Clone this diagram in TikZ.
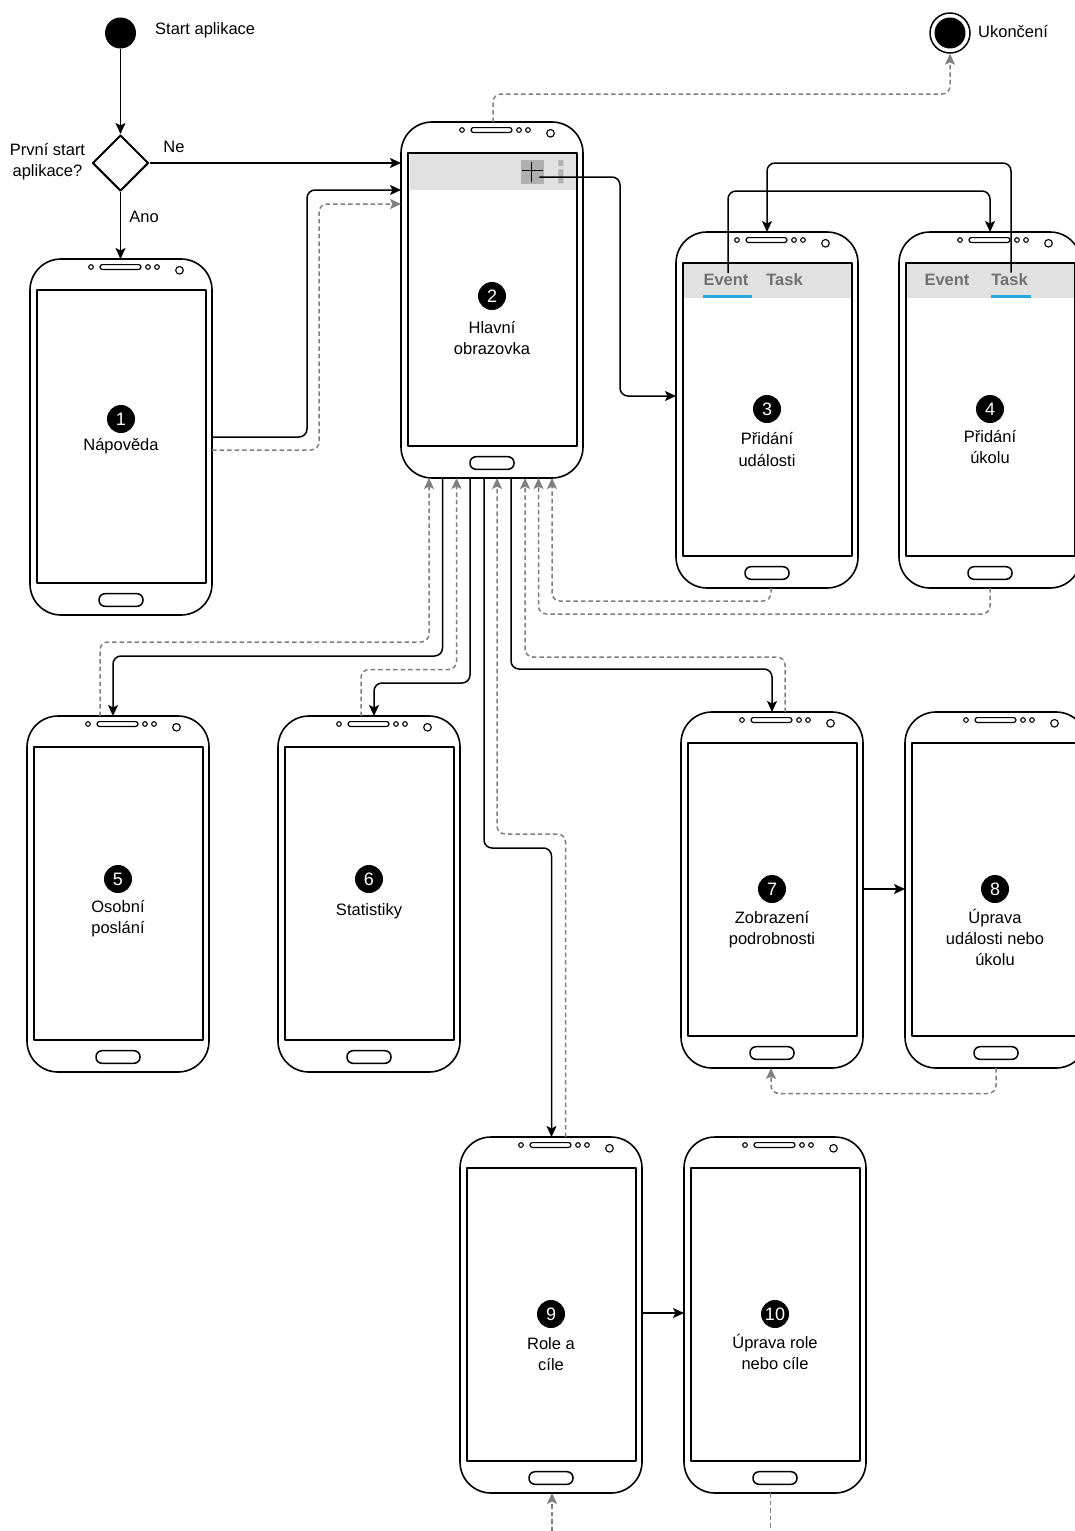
\documentclass[tikz,border=0pt]{standalone}
\usepackage{fontspec}
\setmainfont{Liberation Sans}
\usetikzlibrary{shapes.geometric,arrows.meta,calc}
\definecolor{dgray}{HTML}{7F7F7F}
\definecolor{hdr}{HTML}{E1E1E1}
\definecolor{tabtxt}{HTML}{707070}
\definecolor{tabblue}{HTML}{2AA8E0}
\definecolor{icongray}{HTML}{B0B0B0}
\newcommand{\lblfont}{\fontsize{16.5pt}{21pt}\selectfont}
\newcommand{\mobphone}[3]{%
  \node[phonebody] (#1) at (#2,#3) {};
  \begin{scope}[shift={(#2,#3)}]
    \draw[line width=1.5pt] (7,31) rectangle (176,324);
    \draw[line width=1.2pt, rounded corners=2.4pt] (70,5.6) rectangle (111,10.4);
    \draw[line width=1.1pt] (61,8) circle (2.3) (118,8) circle (2.3) (127,8) circle (2.3) (149.5,11.3) circle (3.8);
    \draw[line width=1.5pt, rounded corners=6pt] (69,334.7) rectangle (113,347.3);
  \end{scope}}
\begin{document}
\begin{tikzpicture}[x=1pt,y=-1pt,line join=round,
  phonebody/.style={draw, line width=1.6pt, rounded corners=31pt, minimum width=182pt, minimum height=356pt, anchor=north west, outer sep=0pt, inner sep=0pt, fill=white},
  flow/.style={line width=1.5pt, rounded corners=8pt, -{Stealth[length=11pt,width=10pt,inset=2.5pt]}},
  back/.style={line width=1.5pt, dgray, dash pattern=on 4.5pt off 3pt, rounded corners=8pt, -{Stealth[length=11pt,width=10pt,inset=2.5pt]}},
  badge/.style={circle, fill=black, text=white, minimum size=28pt, inner sep=0pt, font=\fontsize{18pt}{21pt}\selectfont},
  lbl/.style={align=center, font=\lblfont, inner sep=1pt},
  tab/.style={font=\lblfont\bfseries, text=tabtxt, inner sep=1pt}]
\useasboundingbox (0,0) rectangle (1075,1531);
\clip (0,0) rectangle (1075,1531);
\fill[white] (0,0) rectangle (1075,1531);

% phones
\mobphone{p1}{30}{259}
\mobphone{p2}{401}{122}
\mobphone{p3}{676}{232}
\mobphone{p4}{899}{232}
\mobphone{p5}{27}{716}
\mobphone{p6}{278}{716}
\mobphone{p7}{681}{712}
\mobphone{p8}{905}{712}
\mobphone{p9}{460}{1137}
\mobphone{p10}{684}{1137}

% header of main screen
\fill[hdr] (409.7,153.7) rectangle (576.3,190);
\node[fill=icongray, minimum width=23.5pt, minimum height=24pt, inner sep=0pt] (plus) at (532.3,172) {};
\draw[line width=1.5pt] (522,170.7) -- (542.7,170.7) (531.7,161.7) -- (531.7,181.7);
\fill[icongray] (558.3,160) rectangle (563.3,166) (558.3,169.3) rectangle (563.3,183.3);

% headers of add screens
\fill[hdr] (683.7,263.7) rectangle (851.3,298);
\fill[hdr] (906.7,263.7) rectangle (1074.3,298);
\fill[tabblue] (702.7,295) rectangle (752,298);
\fill[tabblue] (991,295) rectangle (1030.7,298);
\node[tab] (t3e) at (726,280) {Event};
\node[tab] (t3t) at (784.5,280) {Task};
\node[tab] (t4e) at (947,280) {Event};
\node[tab] (t4t) at (1009.5,280) {Task};

% badges and labels
\node[badge] (b1) at (121,419) {1};
\node[lbl] (l1) at (121,446) {Nápověda};
\node[badge] (b2) at (492,296) {2};
\node[lbl] (l2) at (492,338.5) {Hlavní\\obrazovka};
\node[badge] (b3) at (767,409) {3};
\node[lbl] (l3) at (767,449.5) {Přidání\\události};
\node[badge] (b4) at (990,409) {4};
\node[lbl] (l4) at (990,447) {Přidání\\úkolu};
\node[badge] (b5) at (118,879) {5};
\node[lbl] (l5) at (118,918.5) {Osobní\\poslání};
\node[badge] (b6) at (369,879) {6};
\node[lbl] (l6) at (369,911) {Statistiky};
\node[badge] (b7) at (772,889) {7};
\node[lbl] (l7) at (772,929.5) {Zobrazení\\podrobnosti};
\node[badge] (b8) at (995,889) {8};
\node[lbl] (l8) at (995,937) {Úprava\\události nebo\\úkolu};
\node[badge] (b9) at (551,1314) {9};
\node[lbl] (l9) at (551,1354.5) {Role a\\cíle};
\node[badge] (b10) at (775,1314) {10};
\node[lbl] (l10) at (775,1352) {Úprava role\\nebo cíle};

% start, decision, end
\node[circle, fill=black, minimum size=31pt, inner sep=0pt] (start) at (120.5,33) {};
\node[lbl, anchor=west] (tstart) at (154,30) {Start aplikace};
\node[diamond, draw, line width=2pt, minimum width=56pt, minimum height=56pt, inner sep=0pt, fill=white] (dec) at (120.5,163) {};
\node[lbl] (tdec) at (47.5,161.5) {První start\\aplikace?};
\node[circle, draw, line width=1.5pt, minimum size=40pt, inner sep=0pt] (end) at (950,33) {};
\fill (end.center) circle (15.5);
\node[lbl, anchor=west] (tend) at (977,32) {Ukončení};

% connectors
\draw[flow] (start.south) -- (dec.north);
\draw[flow] (dec.east) -- (dec.east -| p2.west);
\node[lbl] (tne) at (174,147) {Ne};
\draw[flow] (dec.south) -- (dec.south |- p1.north);
\node[lbl] (tano) at (144,217) {Ano};
\draw[flow] ($(p1.north east)+(0,178)$) -- (307,437) -- (307,190) -- ($(p2.north west)+(0,68)$);
\draw[back] ($(p1.north east)+(0,191)$) -- (319,450) -- (319,204) -- ($(p2.north west)+(0,82)$);
\draw[back] ($(p2.north west)+(92,0)$) -- (493,94) -| (end.south);
\draw[flow] ($(plus.center)+(7,5)$) -- (620,177) -- (620,396) -- ($(p3.north west)+(0,164)$);
\draw[flow] ($(t3e.north)+(2,0)$) -- (728,191) -- (990,191) -- ($(p4.north west)+(91,0)$);
\draw[flow] ($(t4t.north)+(1.5,0)$) -- (1011,163) -- (767,163) -- ($(p3.north west)+(91,0)$);

\draw[back] ($(p3.south west)+(95,0)$) -- (771,601) -- (552,601) -- ($(p2.south west)+(151,0)$);
\draw[back] ($(p4.south west)+(91,0)$) -- (990,614) -- (538.5,614) -- ($(p2.south west)+(137.5,0)$);

\draw[back] ($(p5.north west)+(73,0)$) -- (100,642) -- (429,642) -- ($(p2.south west)+(28,0)$);
\draw[flow] ($(p2.south west)+(41.5,0)$) -- (442.5,656) -- (113,656) -- ($(p5.north west)+(86,0)$);
\draw[back] ($(p6.north west)+(83,0)$) -- (361,669.5) -- (456.5,669.5) -- ($(p2.south west)+(55.5,0)$);
\draw[flow] ($(p2.south west)+(69,0)$) -- (470,683) -- (374,683) -- ($(p6.north west)+(96,0)$);
\draw[flow] ($(p2.south west)+(83,0)$) -- (484,848) -- (551.5,848) -- ($(p9.north west)+(91.5,0)$);
\draw[back] ($(p9.north west)+(105.5,0)$) -- (565.5,834) -- (497,834) -- ($(p2.south west)+(96,0)$);
\draw[flow] ($(p2.south west)+(110,0)$) -- (511,669) -- (772,669) -- ($(p7.north west)+(91,0)$);
\draw[back] ($(p7.north west)+(104,0)$) -- (785,657) -- (525,657) -- ($(p2.south west)+(124,0)$);

\draw[flow] ($(p7.north east)+(0,177)$) -- ($(p8.north west)+(0,177)$);
\draw[back] ($(p8.south west)+(91,0)$) -- (996,1093.5) -- (771,1093.5) -- ($(p7.south west)+(90,0)$);
\draw[flow] ($(p9.north east)+(0,176)$) -- ($(p10.north west)+(0,176)$);

\coordinate (in9) at (552,1531);
\coordinate (out10) at (770.5,1531);
\draw[back] (in9) -- ($(p9.south west)+(92,0)$);
\draw[back, arrows=-] ($(p10.south west)+(86.5,0)$) -- (out10);
\end{tikzpicture}
\end{document}
